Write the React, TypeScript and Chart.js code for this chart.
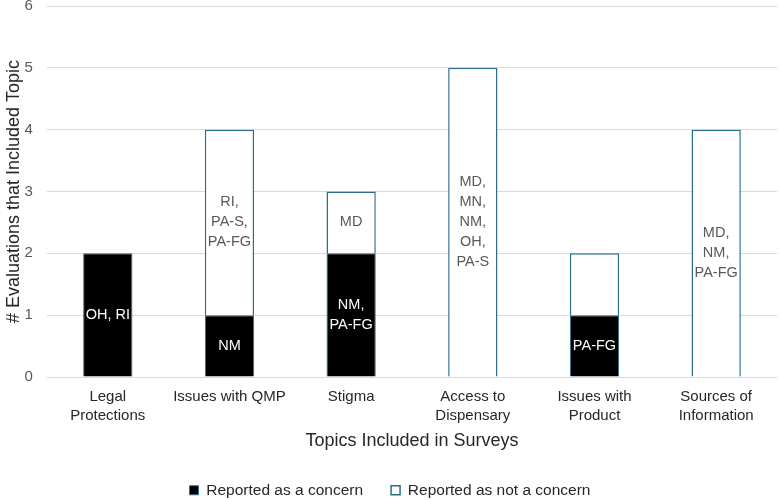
import React, { useEffect, useRef } from "react";
import { Chart, registerables } from "chart.js";

Chart.register(...registerables);

const categories: string[][] = [
  ["Legal", "Protections"],
  ["Issues with QMP"],
  ["Stigma"],
  ["Access to", "Dispensary"],
  ["Issues with", "Product"],
  ["Sources of", "Information"],
];
const concernValues = [2, 1, 2, 0, 1, 0];
const notConcernValues = [0, 3, 1, 5, 1, 4];
const concernLabels = ["OH, RI", "NM", "NM,\nPA-FG", "", "PA-FG", ""];
const notConcernLabels = ["", "RI,\nPA-S,\nPA-FG", "MD", "MD,\nMN,\nNM,\nOH,\nPA-S", "", "MD,\nNM,\nPA-FG"];
const yTicks = [0, 1, 2, 3, 4, 5, 6];

const FONT = "'Liberation Sans', Arial, sans-serif";
const BORDER = "#2B6E8C";

const labelPlugin = {
  id: "barLabels",
  afterDatasetsDraw(chart: any) {
    const ctx = chart.ctx;
    const sets = [
      { labels: concernLabels, color: "#ffffff" },
      { labels: notConcernLabels, color: "#595959" },
    ];
    sets.forEach((s, di) => {
      const meta = chart.getDatasetMeta(di);
      meta.data.forEach((el: any, i: number) => {
        const txt = s.labels[i];
        if (!txt) return;
        const lines = txt.split("\n");
        const cy = (el.y + el.base) / 2;
        const lh = 20;
        ctx.save();
        ctx.font = `14.5px ${FONT}`;
        ctx.fillStyle = s.color;
        ctx.textAlign = "center";
        ctx.textBaseline = "middle";
        lines.forEach((ln: string, k: number) => {
          ctx.fillText(ln, el.x, cy + (k - (lines.length - 1) / 2) * lh);
        });
        ctx.restore();
      });
    });
  },
};

export default function App() {
  const ref = useRef<HTMLCanvasElement>(null);
  useEffect(() => {
    if (!ref.current) return;
    const chart = new Chart(ref.current, {
      type: "bar",
      data: {
        labels: categories,
        datasets: [
          {
            label: "Reported as a concern",
            data: concernValues,
            backgroundColor: "#000000",
            borderColor: BORDER,
            borderWidth: 1,
            barPercentage: 0.405,
            categoryPercentage: 1,
          },
          {
            label: "Reported as not a concern",
            data: notConcernValues,
            backgroundColor: "#ffffff",
            borderColor: BORDER,
            borderWidth: 1.5,
            barPercentage: 0.405,
            categoryPercentage: 1,
          },
        ],
      },
      options: {
        animation: false,
        responsive: true,
        maintainAspectRatio: false,
        layout: { padding: { left: 3, right: 4, top: 0, bottom: 0 } },
        plugins: {
          tooltip: { enabled: false },
          legend: {
            position: "bottom",
            labels: {
              boxWidth: 9,
              boxHeight: 9,
              color: "#262626",
              font: { family: FONT, size: 15.5 },
              padding: 28,
            },
          },
        },
        scales: {
          x: {
            stacked: true,
            grid: { display: false, drawTicks: false },
            border: { display: false },
            ticks: {
              color: "#262626",
              font: { family: FONT, size: 15, lineHeight: 1.267 },
              padding: 10.5,
              maxRotation: 0,
            },
            afterFit: (scale: any) => {
              scale.height = 77.5;
            },
            title: {
              display: true,
              text: "Topics Included in Surveys",
              color: "#262626",
              font: { family: FONT, size: 18 },
              padding: { top: 5, bottom: 3 },
            },
          },
          y: {
            stacked: true,
            min: 0,
            max: 6,
            afterBuildTicks: (axis: any) => {
              axis.ticks = yTicks.map((v) => ({ value: v }));
            },
            grid: { color: "#d9d9d9", lineWidth: 1, drawTicks: true, tickLength: 14, tickColor: "rgba(0,0,0,0)" },
            border: { display: false },
            ticks: { color: "#595959", font: { family: FONT, size: 15, lineHeight: 0.8 }, padding: 0 },
            title: {
              display: true,
              text: "# Evaluations that Included Topic",
              color: "#262626",
              font: { family: FONT, size: 18 },
              padding: { top: 0, bottom: 0 },
            },
          },
        },
      },
      plugins: [labelPlugin],
    });
    return () => chart.destroy();
  }, []);
  return (
    <div style={{ position: "fixed", left: 0, top: 0, width: 781, height: 500, background: "#fff", overflow: "hidden" }}>
      <div style={{ position: "absolute", left: 0, top: 0, width: 781, height: 508 }}>
        <canvas ref={ref} />
      </div>
    </div>
  );
}
